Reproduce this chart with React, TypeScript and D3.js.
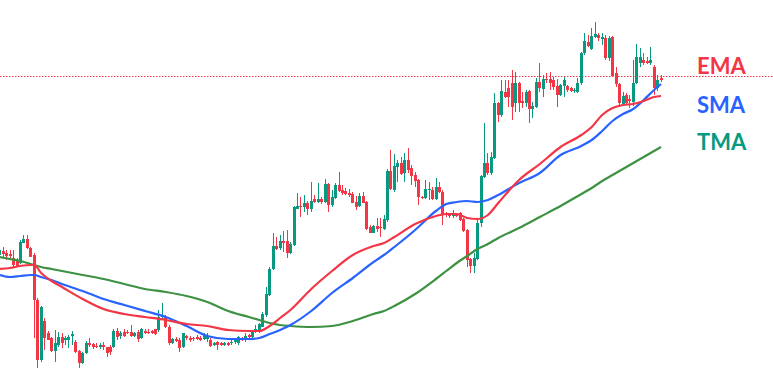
import React from "react";
import * as d3 from "d3";

// Price units (index points)
const opens = [
  145,149,147,146,142,139,137,157,161,152, 145,100,40,79,67,62,49,55,63,60,
  60,64,58,49,37,47,57,56,54,53, 55,53,53,53,69,64,68,68,68,64,
  68,62,69,68,69,71,70,83,83,73, 57,61,60,53,64,62,62,63,62,61,
  61,60,55,58,57,55,57,57,58,57, 62,62,65,63,68,68,73,85,105,131,
  154,152,159,159,147,155,191,194,193,197, 191,201,198,201,198,216,195,202,215,210,
  209,207,206,198,194,204,198,173,167,174, 173,171,180,229,210,233,237,227,240,232,
  225,220,203,202,210,210,201,213,208,186, 185,184,186,187,181,170,141,134,141,177,
  223,237,227,242,297,285,308,312,317,297, 317,299,297,309,291,293,318,311,321,321,
  320,314,305,314,314,312,309,308,317,347, 358,351,363,365,361,362,342,363,327,316,
  296,305,301,298,317,337,340,339,337,333, 312,322,
];
const highs = [
  153,153,150,150,150,142,160,165,165,153, 147,102,94,82,69,63,70,68,67,64,
  65,69,60,50,48,59,62,57,57,57, 58,53,55,71,72,69,71,70,75,68,
  70,72,71,71,70,71,90,97,85,75, 62,63,62,67,65,64,63,65,64,67,
  67,62,58,59,58,58,58,60,62,64, 63,67,66,69,75,77,88,113,133,167,
  163,165,169,170,158,194,207,203,205,199, 218,205,217,203,221,217,210,217,228,215,
  212,211,208,204,207,208,199,175,175,182, 182,185,231,250,246,240,243,247,252,235,
  228,221,204,220,218,213,222,218,210,188, 187,190,187,188,182,171,142,147,180,225,
  277,247,248,307,298,320,320,320,330,328, 318,308,310,310,298,322,337,325,327,328,
  323,321,316,323,315,313,312,322,348,367, 365,372,378,367,367,365,364,364,333,317,
  308,307,305,340,356,352,347,343,353,335, 325,325,
];
const lows = [
  144,143,140,141,133,133,136,157,151,143, 62,32,38,50,60,48,38,53,52,55,
  52,55,47,32,36,46,53,51,52,51, 50,43,45,52,60,61,63,66,63,63,
  58,61,66,66,66,65,68,80,72,55, 56,58,48,52,60,58,59,60,59,60,
  58,53,54,50,54,54,54,55,56,55, 59,58,62,62,67,67,73,83,104,130,
  150,150,148,142,146,154,191,183,188,185, 188,197,197,196,197,188,193,201,208,205,
  205,203,197,190,193,197,170,167,167,168, 163,170,178,210,208,218,225,218,227,215,
  213,195,201,201,200,200,200,207,175,183, 182,182,183,179,168,133,127,127,140,173,
  222,225,225,241,278,283,302,293,280,288, 288,292,293,277,282,292,308,303,317,310,
  310,293,304,303,308,308,307,307,315,345, 353,350,362,359,355,340,339,323,313,293,
  294,295,292,294,316,333,335,336,335,305, 309,318,
];
const closes = [
  150,146,144,144,135,134,158,161,152,143, 100,40,93,62,60,49,57,63,57,62,
  63,66,48,37,47,57,55,53,53,55, 53,47,48,69,63,67,64,67,64,67,
  61,71,67,67,67,66,83,85,73,57, 61,59,52,67,62,60,61,61,60,65,
  64,54,57,55,55,57,55,58,60,63, 60,64,63,68,71,76,86,106,131,154,
  151,159,157,147,156,193,194,193,197,191, 199,198,201,198,216,195,203,215,209,207,
  206,205,197,193,204,197,171,167,174,171, 172,181,229,211,234,237,226,240,230,224,
  219,203,202,211,211,201,213,208,185,185, 184,186,184,180,169,140,134,142,177,224,
  237,227,243,297,285,309,303,303,293,317, 297,297,308,291,294,318,312,321,320,317,
  313,305,315,320,310,309,310,317,347,359, 354,364,366,362,363,342,362,324,316,297,
  304,297,299,317,343,343,337,337,340,312, 320,320,
];

// Moving averages, read at these bar indices
const maIndex = [0,3,6,9,10,12,15,18,24,30,36,42,48,54,60,66,72,75,78,81,84,90,96,102,108,111,114,120,126,129,132,135,138,141,144,150,156,162,168,171,174,177,180,183,186,189,191];
const emaValues = [131,132,134,135,135,127,119,113,101,91,86,83,80,76,74,70,69,69,74,82,90,111,129,145,154,157,163,176,184,186,186,182,181,185,197,220,236,253,265,273,285,292,295,296,299,303,304];
const smaValues = [125,123,124,125,125,123,120,116,109,101,95,89,83,74,64,61,61,62,66,70,75,89,107,122,138,145,153,170,189,196,198,199,198,200,205,217,227,245,254,260,269,279,286,291,300,310,316];
const tmaValues = [143,141,139,136,135,133,131,129,125,121,116,111,108,104,98,89,83,80,77,75,74,73,74,79,86,89,94,106,121,129,137,144,151,156,162,172,183,194,206,212,219,225,231,237,243,249,253];

const lastPrice = 324;
const labels = ["EMA", "SMA", "TMA"];
const labelColors = ["#f23645", "#2962ff", "#089981"];

const W = 773;
const H = 380;
const UP = "#089981";
const DOWN = "#f23645";

export default function App() {
  const n = opens.length;
  const x = d3.scaleLinear().domain([0, n - 1]).range([-0.4, 661]);
  const y = d3.scaleLinear().domain([30, 380]).range([370, 20]);

  const mkLine = (vals: number[]) =>
    d3
      .line<number>()
      .x((_, i) => x(maIndex[i]))
      .y((d) => y(d))
      .curve(d3.curveMonotoneX)(vals) || "";

  const candles = opens.map((o, i) => {
    const c = closes[i];
    const up = c >= o;
    const cx = x(i);
    const left = Math.round(cx - 1.4);
    const top = Math.round(y(Math.max(o, c)));
    const bot = Math.round(y(Math.min(o, c)));
    const hTop = Math.round(y(highs[i]));
    const lBot = Math.round(y(lows[i]));
    const col = up ? UP : DOWN;
    return (
      <g key={i}>
        <rect x={left + 1} y={hTop} width={1} height={Math.max(1, lBot - hTop)} fill={col} />
        <rect x={left} y={top} width={3} height={Math.max(1, bot - top)} fill={col} />
      </g>
    );
  });

  const labelY = [74, 113, 150];

  return (
    <svg
      width={W}
      height={H}
      style={{ position: "absolute", left: 0, top: 0, background: "#fff" }}
    >
      <rect x={0} y={0} width={W} height={H} fill="#fff" />
      <line
        x1={0}
        x2={W}
        y1={Math.round(y(lastPrice)) + 0.5}
        y2={Math.round(y(lastPrice)) + 0.5}
        stroke="#f23645"
        strokeWidth={1}
        strokeDasharray="1.5,1.5"
      />
      <g shapeRendering="crispEdges">{candles}</g>
      <path d={mkLine(tmaValues)} fill="none" stroke="#3d9142" strokeWidth={2.2} strokeLinejoin="round" />
      <path d={mkLine(smaValues)} fill="none" stroke="#2962ff" strokeWidth={2.2} strokeLinejoin="round" />
      <path d={mkLine(emaValues)} fill="none" stroke="#f23645" strokeWidth={2.2} strokeLinejoin="round" />
      {labels.map((t, i) => (
        <text
          key={t}
          x={697}
          y={labelY[i]}
          fill={labelColors[i]}
          fontFamily="Lato, 'Open Sans', sans-serif"
          fontWeight={700}
          fontSize={22}
        >
          {t}
        </text>
      ))}
    </svg>
  );
}
